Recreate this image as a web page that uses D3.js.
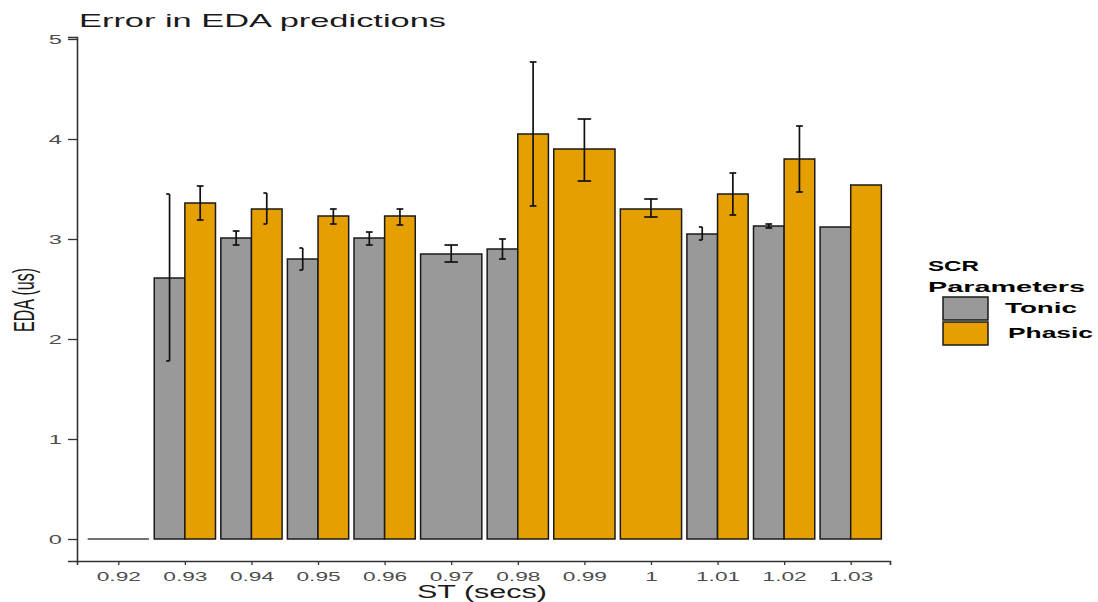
<!DOCTYPE html>
<html>
<head>
<meta charset="utf-8">
<script src="https://cdn.jsdelivr.net/npm/d3@7"></script>
<style>
body{margin:0;background:#fff;}
text{font-family:"Liberation Sans",Arial,sans-serif;}
</style>
</head>
<body>
<div id="my_dataviz"></div>
<script>
// values
let st = [0.92, 0.93, 0.94, 0.95, 0.96, 0.97, 0.98, 0.99, 1.00, 1.01, 1.02, 1.03];
let tonic   = [0,    2.61, 3.01, 2.80, 3.01, 2.85, 2.90, null, null, 3.05, 3.13, 3.12];
let tonicLo = [null, 1.78, 2.94, 2.69, 2.94, 2.77, 2.80, null, null, 2.99, 3.11, null];
let tonicHi = [null, 3.45, 3.08, 2.91, 3.07, 2.94, 3.00, null, null, 3.12, 3.15, null];
let phasic   = [null, 3.36, 3.30, 3.23, 3.23, null, 4.05, 3.90, 3.30, 3.45, 3.80, 3.54];
let phasicLo = [null, 3.19, 3.15, 3.15, 3.14, null, 3.33, 3.58, 3.22, 3.24, 3.47, null];
let phasicHi = [null, 3.53, 3.46, 3.30, 3.30, null, 4.77, 4.20, 3.40, 3.66, 4.13, null];
let yTicks = [0, 1, 2, 3, 4, 5];
let seriesNames = ["Tonic", "Phasic"];
let seriesColors = ["#999999", "#E69F00"];
// error bars drawn with only the left half of the cap in the original
let leftCapOnly = ["0.93-Tonic", "0.94-Phasic", "0.95-Tonic", "1.01-Tonic"];

let width = 1098, height = 602;
let svg = d3.select("#my_dataviz")
  .append("svg")
    .attr("width", width)
    .attr("height", height);

let x = d3.scaleLinear().domain([0.9138, 1.0359]).range([77, 890]);
let y = d3.scaleLinear().domain([-0.22, 5.02]).range([561, 37]);
let groupW = 0.0092;

// build bar records
let bars = [];
st.forEach(function(v, i){
  let t = tonic[i], p = phasic[i];
  let both = t != null && p != null;
  if (t != null) bars.push({st:v, s:0, val:t, lo:tonicLo[i], hi:tonicHi[i],
    x0: v - groupW/2, x1: both ? v : v + groupW/2});
  if (p != null) bars.push({st:v, s:1, val:p, lo:phasicLo[i], hi:phasicHi[i],
    x0: both ? v : v - groupW/2, x1: v + groupW/2});
});

svg.append("g").selectAll("rect")
  .data(bars.filter(d => d.val > 0))
  .enter().append("rect")
    .attr("x", d => x(d.x0))
    .attr("width", d => x(d.x1) - x(d.x0))
    .attr("y", d => y(d.val))
    .attr("height", d => y(0) - y(d.val))
    .attr("fill", d => seriesColors[d.s])
    .attr("stroke", "#1a1a1a")
    .attr("stroke-width", 1.5);

// zero-height bars only show their outline
svg.append("g").selectAll("line")
  .data(bars.filter(d => d.val === 0))
  .enter().append("line")
    .attr("x1", d => x(d.x0))
    .attr("x2", d => x(d.x1))
    .attr("y1", y(0)).attr("y2", y(0))
    .attr("stroke", "#444")
    .attr("stroke-width", 1.6);

// error bars
let eb = svg.append("g").attr("stroke", "#111").attr("stroke-width", 1.7).attr("fill", "none");
bars.filter(d => d.lo != null).forEach(function(d){
  let cx = x((d.x0 + d.x1) / 2);
  let cw = (x(d.x1) - x(d.x0)) * 0.11;
  let key = (+d.st.toFixed(2)) + "-" + seriesNames[d.s];
  let right = leftCapOnly.indexOf(key) >= 0 ? 0 : cw;
  eb.append("line").attr("x1", cx).attr("x2", cx).attr("y1", y(d.hi)).attr("y2", y(d.lo));
  eb.append("line").attr("x1", cx - cw).attr("x2", cx + right).attr("y1", y(d.hi)).attr("y2", y(d.hi));
  eb.append("line").attr("x1", cx - cw).attr("x2", cx + right).attr("y1", y(d.lo)).attr("y2", y(d.lo));
});

function stretch(sel, sx){
  sel.each(function(){
    let t = d3.select(this);
    let x0 = +t.attr("x") || 0;
    t.attr("transform", "translate(" + x0 + ",0) scale(" + sx + ",1) translate(" + (-x0) + ",0)");
  });
}

// axes
let xAxis = svg.append("g")
  .attr("transform", "translate(0,561)")
  .call(d3.axisBottom(x).tickValues(st).tickSize(4).tickPadding(6).tickFormat(d => String(+d.toFixed(2))));
let yAxis = svg.append("g")
  .attr("transform", "translate(77,0)")
  .call(d3.axisLeft(y).tickValues(yTicks).tickSize(9).tickPadding(6).tickFormat(d3.format("d")));

[xAxis, yAxis].forEach(function(a){
  a.select(".domain").attr("stroke", "#333").attr("stroke-width", 1.6);
  a.selectAll(".tick line").attr("stroke", "#333").attr("stroke-width", 1.3);
  a.selectAll(".tick text").attr("fill", "#4d4d4d").style("font-size", "13.5px");
});
xAxis.selectAll(".tick text").attr("transform", "scale(1.68,1)");
stretch(yAxis.selectAll(".tick text"), 1.75);

// titles
svg.append("text")
  .attr("x", 79).attr("y", 27)
  .attr("textLength", 367).attr("lengthAdjust", "spacingAndGlyphs")
  .style("font-size", "18.5px").attr("fill", "#1a1a1a")
  .text("Error in EDA predictions");

svg.append("text")
  .attr("x", 417).attr("y", 598)
  .attr("textLength", 130).attr("lengthAdjust", "spacingAndGlyphs")
  .style("font-size", "18px").attr("fill", "#1a1a1a")
  .text("ST (secs)");

svg.append("text")
  .attr("transform", "translate(34,300) scale(1.8,1) rotate(-90)")
  .attr("text-anchor", "middle")
  .style("font-size", "16px").attr("fill", "#1a1a1a")
  .text("EDA (us)");

// legend
let legend = svg.append("g");
legend.append("text")
  .attr("x", 928).attr("y", 271)
  .attr("textLength", 51).attr("lengthAdjust", "spacingAndGlyphs")
  .style("font-size", "14px").style("font-weight", "bold")
  .text("SCR");
legend.append("text")
  .attr("x", 928).attr("y", 292)
  .attr("textLength", 157).attr("lengthAdjust", "spacingAndGlyphs")
  .style("font-size", "14px").style("font-weight", "bold")
  .text("Parameters");
let keyTop = [297, 322];
let labelW = [72, 85];
let labelX = [1005, 1008];
seriesNames.forEach(function(n, i){
  legend.append("rect")
    .attr("x", 943).attr("y", keyTop[i])
    .attr("width", 45).attr("height", 23)
    .attr("fill", seriesColors[i])
    .attr("stroke", "#1a1a1a").attr("stroke-width", 1.5);
  legend.append("text")
    .attr("x", labelX[i]).attr("y", keyTop[i] + 16)
    .attr("textLength", labelW[i]).attr("lengthAdjust", "spacingAndGlyphs")
    .style("font-size", "14px").style("font-weight", "bold")
    .text(n);
});
</script>
</body>
</html>
